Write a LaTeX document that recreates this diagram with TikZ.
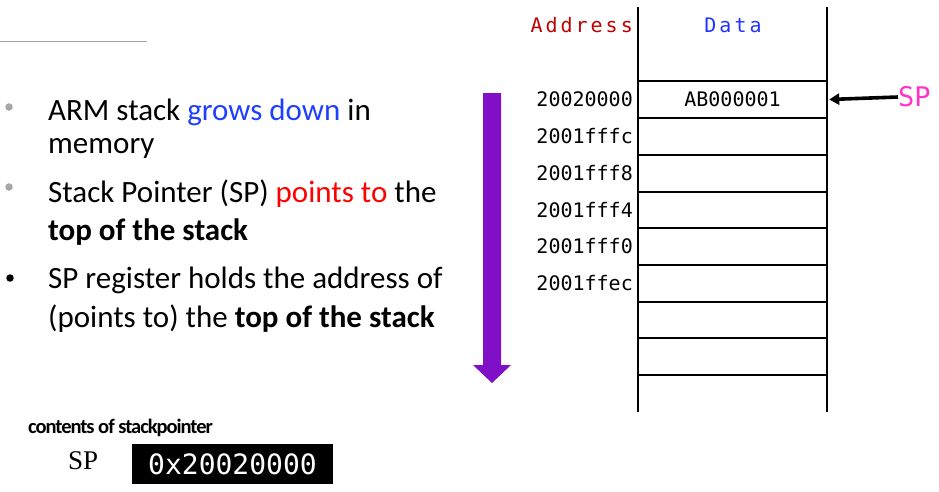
\documentclass[tikz,border=0pt]{standalone}
\usepackage{fontspec}
\setmainfont{Carlito}
\setmonofont{DejaVu Sans Mono}
\newfontfamily\serifsp{Liberation Serif}
\usetikzlibrary{arrows.meta}
\definecolor{addrred}{HTML}{C00000}
\definecolor{datablue}{HTML}{2233FF}
\definecolor{spmag}{HTML}{FF33CC}
\definecolor{arrpurple}{HTML}{8010C8}
\definecolor{bulgray}{HTML}{A6A6A6}
\definecolor{txtblue}{HTML}{1F3FFF}
\definecolor{txtred}{HTML}{FF0000}
\tikzset{
  bodytext/.style={anchor=base west, inner sep=0pt, font=\fontsize{31}{35}\selectfont},
  bulletdot/.style={circle, inner sep=0pt, minimum size=7.5pt},
  addr/.style={anchor=east, inner sep=0pt, font=\ttfamily\fontsize{20}{22}\selectfont},
  cellline/.style={line width=1.6pt, black},
  hdr/.style={inner sep=0pt, font=\ttfamily\fontsize{20}{22}\selectfont\addfontfeature{LetterSpace=15}},
}
\begin{document}
\begin{tikzpicture}[x=1pt,y=-1pt]
\useasboundingbox (0,0) rectangle (939,491);
% top-left rule
\draw[bulgray, line width=1pt] (0,41) -- (147,41);
% bullets
\node[bulletdot, fill=bulgray] (b1) at (9,107) {};
\node[bulletdot, fill=bulgray] (b2) at (9,187) {};
\node[bulletdot, fill=black] (b3) at (10,278) {};
\node[bodytext] (l1) at (48,120) {ARM stack {\color{txtblue}grows down} in};
\node[bodytext] (l2) at (48,153) {memory};
\node[bodytext] (l3) at (48,202) {Stack Pointer (SP) {\color{txtred}points to} the};
\node[bodytext] (l4) at (48,240) {\textbf{top of the stack}};
\node[bodytext] (l5) at (48,288) {SP register holds the address of};
\node[bodytext] (l6) at (48,327) {(points to) the \textbf{top of the stack}};
% purple growth arrow
\fill[arrpurple] (483,93) -- (501,93) -- (501,365) -- (511,365) -- (492,383) -- (473,365) -- (483,365) -- cycle;
% memory table
\draw[cellline] (638,7) -- (638,412);
\draw[cellline] (827,7) -- (827,412);
\foreach \yy in {81,118,155,192,228,265,302,338,375}
  \draw[cellline] (638,\yy) -- (827,\yy);
\node[hdr, text=addrred, anchor=east] (haddr) at (633,25) {Address};
\node[hdr, text=datablue] (hdata) at (733,25) {Data};
\node[addr] (a0) at (633,99.5) {20020000};
\node[addr] (a1) at (633,136.5) {2001fffc};
\node[addr] (a2) at (633,173.5) {2001fff8};
\node[addr] (a3) at (633,210) {2001fff4};
\node[addr] (a4) at (633,246.5) {2001fff0};
\node[addr] (a5) at (633,283.5) {2001ffec};
\node[inner sep=0pt, minimum width=189pt, minimum height=37pt, font=\ttfamily\fontsize{20}{22}\selectfont] (c0) at (732.5,99.5) {AB000001};
\node[inner sep=0pt, anchor=west, text=spmag, font=\ttfamily\fontsize{27}{30}\selectfont] (sp) at (898,97) {SP};
\draw[line width=3.6pt, -{Triangle[length=10pt,width=11pt]}] (sp.west) -- ([xshift=2pt]c0.east);
% bottom register
\node[anchor=west, inner sep=0pt, font=\bfseries\fontsize{20.5}{22}\selectfont\addfontfeature{LetterSpace=-5}] (cap) at (28,428) {contents of stackpointer};
\node[anchor=west, inner sep=0pt, font=\serifsp\fontsize{27}{29}\selectfont] (spreg) at (68,461) {SP};
\node[fill=black, text=white, inner sep=0pt, minimum width=201pt, minimum height=40pt, font=\ttfamily\fontsize{28}{30}\selectfont] (val) at (232.5,464) {0x20020000};
\end{tikzpicture}
\end{document}
